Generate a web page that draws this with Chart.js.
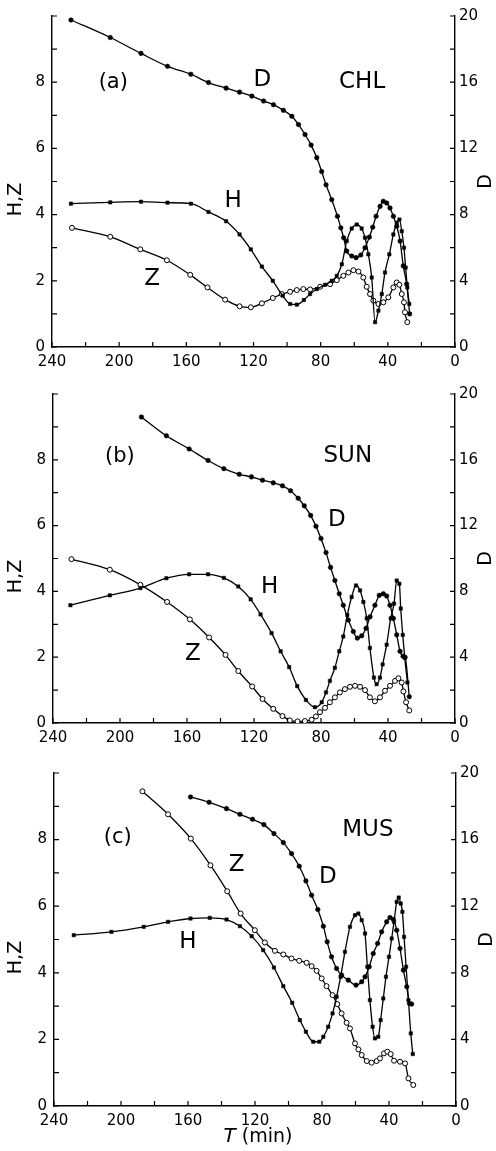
<!DOCTYPE html>
<html>
<head>
<meta charset="utf-8">
<script src="https://cdn.jsdelivr.net/npm/chart.js@4.4.1/dist/chart.umd.min.js"></script>
<style>
  html, body { margin: 0; padding: 0; background: #fff; }
  body { width: 496px; height: 1151px; position: relative; overflow: hidden; }
  canvas { position: absolute; left: 0; }
</style>
</head>
<body>
<canvas id="ca" width="496" height="378" style="top:0px"></canvas>
<canvas id="cb" width="496" height="372" style="top:378px"></canvas>
<canvas id="cc" width="496" height="401" style="top:750px"></canvas>
<script>
// ---------- Panel (a) CHL ----------
const aD_T = [228.7,205.3,187,171.2,157.3,146.8,136.3,128.3,121,114,108.1,102.2,97.2,93.2,89.3,85.7,82.3,79.4,76.8,73.4,70,68,66.3,64.5,61.5,58.9,56.1,53.6,51,49,47,44.6,42.7,40.7,38.7,36.7,34.7,32.7,30.8,28.8,27];
const aD   = [19.76,18.7,17.74,16.96,16.48,15.98,15.64,15.4,15.16,14.86,14.64,14.3,13.94,13.44,12.84,12.2,11.44,10.6,9.8,8.9,7.9,7.2,6.6,5.8,5.5,5.4,5.56,6.0,6.64,7.24,7.9,8.5,8.8,8.7,8.4,7.9,7.3,6.4,4.9,3.8,2.0];
const aH_T = [228.7,205.3,187,171.2,157.3,146.8,136.3,128.3,121.6,115,108.5,102.6,98.2,94.2,90,86.3,82.3,77.4,73.4,70.4,67.4,64.5,61.5,58.5,55.6,53.6,51.6,49.6,47.6,45.6,43.6,41.7,39.1,36.7,34.7,33.1,31.7,30.4,29.4,28.4,27.2];
const aH   = [4.33,4.37,4.39,4.36,4.33,4.08,3.8,3.4,2.95,2.43,2.0,1.55,1.3,1.28,1.42,1.6,1.75,1.88,2.0,2.15,2.5,3.2,3.58,3.7,3.58,3.3,2.8,2.1,0.75,1.1,1.6,2.25,2.8,3.4,3.75,3.85,3.5,3.0,2.4,1.8,1.3];
const aZ_T = [228.1,205.3,187.4,171.6,157.7,147.4,136.9,128.3,121.6,115,108.5,103.2,98.2,94.2,90.3,86.3,80.3,74.4,70.4,66.5,63.5,60.5,57.5,54.6,52.6,50.6,48.6,45.6,42.7,39.7,36.7,34.7,33.1,31.7,30.4,29.8,28.4];
const aZ   = [3.6,3.33,2.95,2.62,2.18,1.8,1.43,1.23,1.2,1.32,1.48,1.6,1.67,1.72,1.75,1.74,1.82,1.9,2.02,2.15,2.25,2.32,2.28,2.1,1.82,1.6,1.4,1.3,1.35,1.5,1.8,1.95,1.88,1.6,1.35,1.05,0.75];

// ---------- Panel (b) SUN ----------
const bD_T = [187.2,172.3,158.7,147.4,138,128.8,121.5,114.9,108.5,103,98.2,93.6,90,86.2,83,80,77,74.3,71.7,69.1,66.7,63.7,60.7,58.3,55.7,53.1,50.7,47.8,45.2,42.8,40.8,38.8,36.8,34.8,32.8,31,29.8,27.3];
const bD   = [18.6,17.46,16.66,15.96,15.46,15.12,14.96,14.76,14.6,14.42,14.12,13.66,13.2,12.62,11.96,11.22,10.36,9.46,8.66,7.86,7.16,6.26,5.56,5.16,5.3,5.76,6.46,7.16,7.76,7.86,7.72,7.16,6.36,5.36,4.36,4.06,4.0,1.6];
const bH_T = [229.6,206.1,187.8,172.3,158.7,147.4,138,129.4,122,116.1,109.5,104.1,99,94.2,89,83.6,79.6,77,74.7,71.7,69.1,66.7,64.3,61.7,59.1,56.7,54.7,52.7,50.8,48.4,46.8,44.8,43.2,40.8,38.4,36.4,34.8,33.2,32.4,31.2,30,28.4];
const bH   = [3.58,3.88,4.1,4.4,4.52,4.52,4.41,4.15,3.76,3.3,2.73,2.18,1.7,1.12,0.7,0.48,0.63,0.93,1.28,1.68,2.18,2.63,3.28,3.83,4.18,4.03,3.68,3.18,2.28,1.38,1.18,1.38,1.78,2.38,3.18,3.63,4.33,4.23,3.48,2.68,1.98,1.23];
const bZ_T = [229,206.1,187.8,171.9,158.3,146.8,137,129.4,121.1,114.9,108.5,103,98.6,94,89.6,85.6,83,80.6,77.6,74.7,71.7,68.7,65.7,62.7,59.7,56.7,53.7,50.8,47.8,44.8,41.8,38.8,35.8,33.8,31.8,30.8,29.2,27.3];
const bZ   = [4.98,4.66,4.2,3.68,3.15,2.6,2.07,1.58,1.11,0.73,0.43,0.21,0.08,0.05,0.06,0.1,0.2,0.33,0.46,0.63,0.78,0.93,1.03,1.1,1.13,1.1,1.0,0.78,0.66,0.78,0.98,1.13,1.28,1.36,1.23,0.96,0.63,0.38];

// ---------- Panel (c) MUS ----------
const cD_T = [158.5,147.4,137,129,121.5,114.7,108.7,103.1,98.2,93.6,89.6,86.2,82.5,79.2,76.9,74.3,71.3,68.3,64.3,59.7,56.3,54.3,51.8,49.4,46.8,44.4,41.4,39.4,37.4,35.4,33.4,31.4,29.4,27.8,26.5];
const cD   = [18.56,18.24,17.86,17.52,17.22,16.9,16.36,15.82,15.16,14.4,13.52,12.66,11.8,10.8,9.86,8.96,8.26,7.86,7.56,7.26,7.46,7.76,8.36,9.16,9.76,10.46,11.06,11.32,11.2,10.56,9.46,8.16,7.16,6.16,6.12];
const cH_T = [228.2,205.7,186.4,171.9,158.5,147,137,129,122,115.1,108.7,103.1,97.8,93.2,89.6,85.2,81.6,79.2,76.3,73.7,71.3,68.9,66.3,63.3,60.3,58.3,56.3,54.3,52.9,51.4,49.8,48.4,46.4,45,43.4,41.8,40,38.4,37,35.4,34.2,33,32,31,29.8,28.4,27,25.8];
const cH   = [5.13,5.23,5.38,5.53,5.63,5.65,5.6,5.4,5.1,4.68,4.16,3.6,3.1,2.58,2.23,1.93,1.93,2.08,2.38,2.78,3.28,3.88,4.63,5.38,5.73,5.78,5.58,5.18,4.18,3.18,2.38,2.03,2.08,2.58,3.23,3.88,4.48,5.03,5.53,6.13,6.26,6.08,5.83,5.08,4.18,3.18,2.18,1.56];
const cZ_T = [187.2,171.9,158.3,146.6,136.6,128.6,120.1,114.1,108.1,103.1,98.2,93.6,89.2,86.2,83.2,80.2,77.3,73.7,70.9,68.3,65.3,63.3,60.3,58.3,56.3,53.3,50.4,47.4,45.4,43,41,39,37,33.4,30.4,28.4,25.5];
const cZ   = [9.45,8.76,8.03,7.23,6.45,5.78,5.28,4.91,4.66,4.55,4.43,4.36,4.3,4.2,4.06,3.83,3.6,3.33,3.06,2.78,2.5,2.33,1.88,1.7,1.53,1.35,1.3,1.35,1.43,1.58,1.63,1.56,1.36,1.33,1.28,0.83,0.63];

// ---------- Axis ticks ----------
const xTicks = [240,200,160,120,80,40,0];
const leftTicks = [0,2,4,6,8];
const rightTicks = [0,4,8,12,16,20];

// ---------- Labels in data coordinates [text, T, H/Z value] ----------
const aLabels = [["(a)",203.5,8.0],["D",114.8,8.06],["CHL",55.3,8.0],["H",132.1,4.4],["Z",180.3,2.06]];
const bLabels = [["(b)",200.1,8.09],["SUN",64,8.12],["D",70.5,6.17],["H",110.6,4.13],["Z",156.5,2.09]];
const cLabels = [["(c)",201.9,8.07],["MUS",52.6,8.28],["Z",130.9,7.25],["D",76.5,6.87],["H",160,4.92]];

const FONT = "'DejaVu Sans', 'Liberation Sans', sans-serif";
const pts = (t, v) => t.map((x, i) => ({x: x, y: v[i]}));

const inwardTicks = {
  id: 'inwardTicks',
  afterDraw(chart) {
    const ctx = chart.ctx, x = chart.scales.x, yL = chart.scales.yL, yR = chart.scales.yR;
    const a = chart.chartArea;
    ctx.save();
    ctx.strokeStyle = '#000'; ctx.lineWidth = 1.2;
    ctx.beginPath();
    for (let v = 0; v <= 240; v += 20) { const p = x.getPixelForValue(v); ctx.moveTo(p, a.bottom); ctx.lineTo(p, a.bottom - 5); }
    for (let v = 0; v <= 10; v += 1) { const p = yL.getPixelForValue(v); ctx.moveTo(a.left, p); ctx.lineTo(a.left + 5, p); }
    for (let v = 0; v <= 20; v += 2) { const p = yR.getPixelForValue(v); ctx.moveTo(a.right, p); ctx.lineTo(a.right - 5, p); }
    ctx.stroke();
    ctx.restore();
  }
};

const textLabels = {
  id: 'textLabels',
  afterDraw(chart, args, opts) {
    const ctx = chart.ctx, x = chart.scales.x, yL = chart.scales.yL, a = chart.chartArea;
    ctx.save();
    ctx.fillStyle = '#000';
    ctx.textAlign = 'center'; ctx.textBaseline = 'middle';
    (opts.items || []).forEach(([t, tx, ty]) => {
      ctx.font = (t.startsWith('(') ? '21px ' : '23px ') + FONT;
      ctx.fillText(t, x.getPixelForValue(tx), yL.getPixelForValue(ty));
    });
    // axis titles
    const cy = (a.top + a.bottom) / 2 + 18;
    ctx.font = '19px ' + FONT;
    ctx.save(); ctx.translate(16, cy); ctx.rotate(-Math.PI / 2); ctx.fillText('H,Z', 0, 0); ctx.restore();
    ctx.save(); ctx.translate(a.right + 31, (a.top + a.bottom) / 2); ctx.rotate(-Math.PI / 2); ctx.fillText('D', 0, 0); ctx.restore();
    if (opts.xTitle) {
      const y = a.bottom + 31, cx = (a.left + a.right) / 2 - 0;
      ctx.font = 'italic 20px ' + FONT;
      const w1 = ctx.measureText('T').width;
      ctx.font = '19px ' + FONT;
      const w2 = ctx.measureText(' (min)').width;
      const start = 258 - (w1 + w2) / 2;
      ctx.textAlign = 'left';
      ctx.font = 'italic 20px ' + FONT;
      ctx.fillText('T', start, y);
      ctx.font = '19px ' + FONT;
      ctx.fillText(' (min)', start + w1, y);
    }
    ctx.restore();
  }
};

function makeChart(id, geo, D_T, D, H_T, H, Z_T, Z, labels, xTitle) {
  const line = { borderColor: '#000', borderWidth: 1.3, cubicInterpolationMode: 'monotone', fill: false };
  new Chart(document.getElementById(id), {
    type: 'line',
    data: {
      datasets: [
        Object.assign({ label: 'D', data: pts(D_T, D), yAxisID: 'yR', pointStyle: 'circle', pointRadius: 2.3, pointBackgroundColor: '#000', pointBorderColor: '#000', pointBorderWidth: 0.5 }, line),
        Object.assign({ label: 'H', data: pts(H_T, H), yAxisID: 'yL', pointStyle: 'rect', pointRadius: 2.4, pointBackgroundColor: '#000', pointBorderColor: '#000', pointBorderWidth: 0.5 }, line),
        Object.assign({ label: 'Z', data: pts(Z_T, Z), yAxisID: 'yL', pointStyle: 'circle', pointRadius: 2.5, pointBackgroundColor: '#fff', pointBorderColor: '#000', pointBorderWidth: 1 }, line)
      ]
    },
    options: {
      responsive: false, animation: false, devicePixelRatio: 1,
      layout: { padding: { top: geo.top, left: 0, right: 0, bottom: 0 } },
      plugins: { legend: { display: false }, tooltip: { enabled: false }, textLabels: { items: labels, xTitle: xTitle } },
      scales: {
        x: {
          type: 'linear', min: 0, max: 240, reverse: true,
          grid: { display: false, drawTicks: false },
          border: { display: true, color: '#000', width: 1.4 },
          afterBuildTicks: s => { s.ticks = xTicks.map(v => ({ value: v })); },
          ticks: { color: '#000', font: { family: FONT, size: 15 }, padding: 6, maxRotation: 0, autoSkip: false },
          afterFit: s => { s.height = geo.xh; }
        },
        yL: {
          type: 'linear', position: 'left', min: 0, max: 10,
          grid: { display: false, drawTicks: false },
          border: { display: true, color: '#000', width: 1.4 },
          afterBuildTicks: s => { s.ticks = leftTicks.map(v => ({ value: v })); },
          ticks: { color: '#000', font: { family: FONT, size: 15 }, padding: 7, autoSkip: false },
          afterFit: s => { s.width = geo.lw; }
        },
        yR: {
          type: 'linear', position: 'right', min: 0, max: 20,
          grid: { display: false, drawTicks: false },
          border: { display: true, color: '#000', width: 1.4 },
          afterBuildTicks: s => { s.ticks = rightTicks.map(v => ({ value: v })); },
          ticks: { color: '#000', font: { family: FONT, size: 15 }, padding: 4, autoSkip: false },
          afterFit: s => { s.width = geo.rw; }
        }
      }
    },
    plugins: [inwardTicks, textLabels]
  });
}

makeChart('ca', { top: 13, xh: 31, lw: 52, rw: 41 }, aD_T, aD, aH_T, aH, aZ_T, aZ, aLabels, false);
makeChart('cb', { top: 11, xh: 27, lw: 53, rw: 41 }, bD_T, bD, bH_T, bH, bZ_T, bZ, bLabels, false);
makeChart('cc', { top: 23, xh: 45, lw: 54, rw: 40 }, cD_T, cD, cH_T, cH, cZ_T, cZ, cLabels, true);
</script>
</body>
</html>
